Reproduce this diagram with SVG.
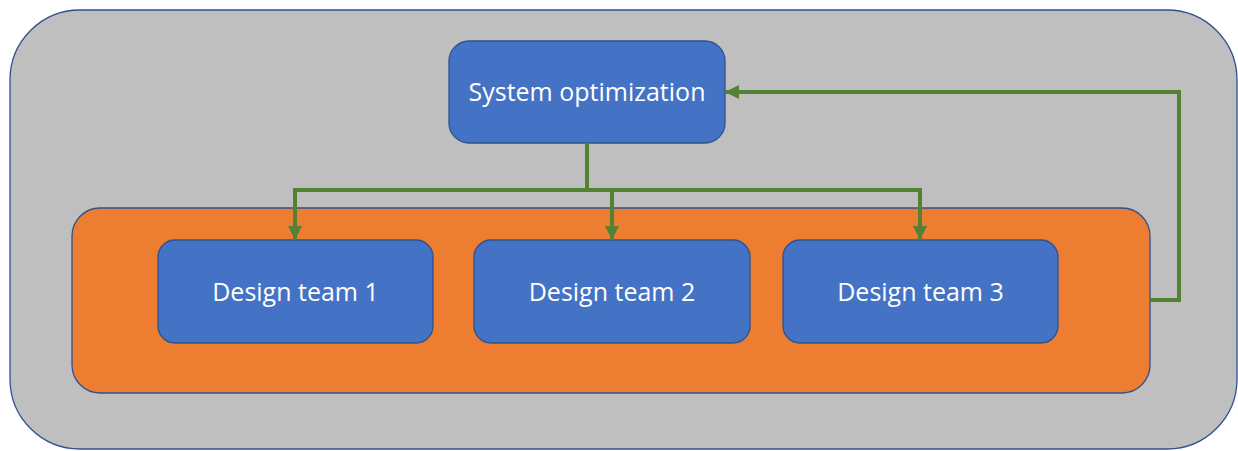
<svg xmlns="http://www.w3.org/2000/svg" width="1238" height="451" viewBox="0 0 1238 451">
<defs>
<style>
.box{fill:#4472C4;stroke:#2F528F;stroke-width:1.3}
.lbl{font-family:"Open Sans","Noto Sans",sans-serif;font-size:25px;fill:#FFFFFF;text-anchor:middle}
.con{fill:none;stroke:#548235;stroke-width:4;stroke-linejoin:miter}
</style>
<marker id="arr" viewBox="0 0 10 10" refX="10" refY="5" markerWidth="3.5" markerHeight="3.5" orient="auto" markerUnits="strokeWidth">
<path d="M0,0 L10,5 L0,10 Z" fill="#548235"/>
</marker>
</defs>
<rect width="1238" height="451" fill="#FFFFFF"/>
<g id="outer">
<rect x="10" y="10" width="1227" height="439" rx="70" ry="70" fill="#BFBFBF" stroke="#2F528F" stroke-width="1.3"/>
</g>
<g id="group">
<rect x="72" y="208" width="1078" height="185" rx="28" ry="28" fill="#ED7D31" stroke="#2F528F" stroke-width="1.3"/>
</g>
<g id="system-optimization">
<rect class="box" x="449" y="41" width="276" height="102" rx="20" ry="20"/>
<text class="lbl" x="587" y="101">System optimization</text>
</g>
<g id="design-team-1">
<rect class="box" x="158" y="240" width="275" height="103" rx="17" ry="17"/>
<text class="lbl" x="295.5" y="301">Design team 1</text>
</g>
<g id="design-team-2">
<rect class="box" x="474" y="240" width="276" height="103" rx="17" ry="17"/>
<text class="lbl" x="612" y="301">Design team 2</text>
</g>
<g id="design-team-3">
<rect class="box" x="783" y="240" width="275" height="103" rx="17" ry="17"/>
<text class="lbl" x="920.5" y="301">Design team 3</text>
</g>
<g id="connectors">
<path class="con" d="M587,143 V190"/>
<path class="con" d="M587,190 H295 V240" marker-end="url(#arr)"/>
<path class="con" d="M587,190 H612 V240" marker-end="url(#arr)"/>
<path class="con" d="M587,190 H920 V240" marker-end="url(#arr)"/>
<path class="con" d="M1150,300 H1179 V92 H725" marker-end="url(#arr)"/>
</g>
</svg>
